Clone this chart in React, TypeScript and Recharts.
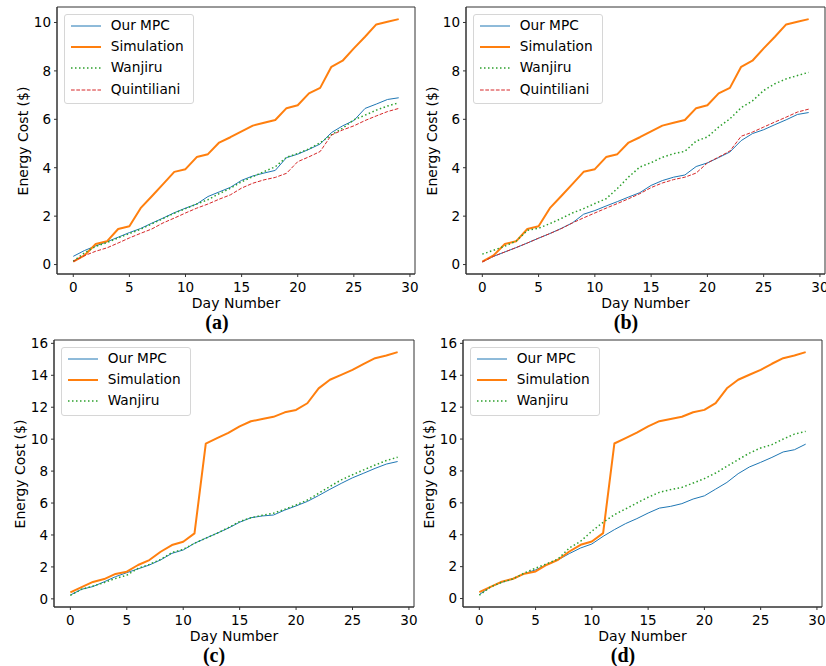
import { Line, LineChart, ReferenceArea, XAxis, YAxis } from "recharts";

// day index 0..29
const days = [
  0, 1, 2, 3, 4, 5, 6, 7, 8, 9, 10, 11, 12, 13, 14, 15, 16, 17, 18, 19, 20, 21, 22, 23, 24, 25, 26,
  27, 28, 29,
];
const xTicks = [0, 5, 10, 15, 20, 25, 30];
const yTicksAB = [0, 2, 4, 6, 8, 10];
const yTicksCD = [0, 2, 4, 6, 8, 10, 12, 14, 16];

// panels (a) and (b)
const simAB = [
  0.12, 0.38, 0.85, 0.96, 1.47, 1.58, 2.33, 2.82, 3.32, 3.83, 3.94, 4.44, 4.56, 5.04, 5.26, 5.5,
  5.74, 5.86, 5.97, 6.46, 6.58, 7.07, 7.3, 8.17, 8.42, 8.93, 9.41, 9.92, 10.03, 10.14,
];
const mpcA = [
  0.34, 0.58, 0.77, 0.94, 1.13, 1.32, 1.49, 1.71, 1.92, 2.14, 2.33, 2.5, 2.81, 3.0, 3.19, 3.48,
  3.66, 3.78, 3.89, 4.42, 4.56, 4.76, 4.98, 5.45, 5.73, 5.95, 6.45, 6.63, 6.82, 6.89,
];
const wanjiruA = [
  0.14, 0.48, 0.75, 0.91, 1.1, 1.28, 1.46, 1.68, 1.9, 2.12, 2.31, 2.5, 2.68, 2.93, 3.15, 3.42, 3.63,
  3.84, 4.04, 4.43, 4.59, 4.78, 5.03, 5.36, 5.63, 5.98, 6.17, 6.38, 6.55, 6.68,
];
const quintilianiA = [
  0.13, 0.37, 0.55, 0.69, 0.89, 1.1, 1.29, 1.47, 1.72, 1.92, 2.13, 2.33, 2.5, 2.7, 2.88, 3.16, 3.36,
  3.5, 3.6, 3.77, 4.25, 4.45, 4.67, 5.35, 5.56, 5.73, 5.95, 6.14, 6.32, 6.45,
];
const mpcB = [
  0.11, 0.34, 0.52, 0.7, 0.89, 1.09, 1.28, 1.49, 1.72, 2.08, 2.23, 2.42, 2.6, 2.79, 2.97, 3.27, 3.47,
  3.61, 3.7, 4.05, 4.2, 4.42, 4.65, 5.12, 5.41, 5.57, 5.78, 5.98, 6.2, 6.28,
];
const wanjiruB = [
  0.43, 0.59, 0.76, 0.97, 1.41, 1.5, 1.69, 1.9, 2.13, 2.31, 2.52, 2.72, 3.14, 3.62, 4.03, 4.21, 4.43,
  4.58, 4.68, 5.1, 5.27, 5.68, 6.02, 6.48, 6.76, 7.19, 7.47, 7.67, 7.81, 7.94,
];
const quintilianiB = [
  0.11, 0.34, 0.52, 0.7, 0.89, 1.09, 1.28, 1.48, 1.72, 1.93, 2.13, 2.33, 2.52, 2.72, 2.93, 3.18,
  3.37, 3.51, 3.61, 3.78, 4.2, 4.44, 4.69, 5.3, 5.47, 5.68, 5.89, 6.09, 6.3, 6.42,
];

// panels (c) and (d)
const simCD = [
  0.4, 0.73, 1.06, 1.24, 1.56, 1.7, 2.12, 2.43, 2.95, 3.37, 3.58, 4.1, 9.72, 10.06, 10.4, 10.8,
  11.12, 11.26, 11.4, 11.68, 11.83, 12.25, 13.18, 13.72, 14.03, 14.34, 14.72, 15.07, 15.24, 15.45,
];
const mpcC = [
  0.24, 0.6, 0.77, 1.07, 1.39, 1.64, 1.88, 2.12, 2.44, 2.85, 3.06, 3.48, 3.8, 4.11, 4.43, 4.8, 5.08,
  5.19, 5.25, 5.56, 5.82, 6.1, 6.47, 6.86, 7.23, 7.58, 7.87, 8.17, 8.44, 8.6,
];
const wanjiruC = [
  0.22, 0.6, 0.8, 1.02, 1.28, 1.48, 1.91, 2.16, 2.47, 2.9, 3.1, 3.48, 3.8, 4.11, 4.46, 4.84, 5.08,
  5.23, 5.36, 5.61, 5.88, 6.19, 6.61, 7.04, 7.45, 7.77, 8.08, 8.38, 8.66, 8.87,
];
const mpcD = [
  0.25, 0.73, 1.02, 1.23, 1.56, 1.8, 2.12, 2.43, 2.82, 3.17, 3.42, 3.9, 4.32, 4.7, 5.01, 5.36, 5.67,
  5.78, 5.95, 6.24, 6.44, 6.86, 7.28, 7.83, 8.25, 8.54, 8.85, 9.19, 9.33, 9.68,
];
const wanjiruD = [
  0.21, 0.73, 1.02, 1.23, 1.6, 1.91, 2.18, 2.48, 3.17, 3.59, 4.22, 4.78, 5.26, 5.62, 5.99, 6.35,
  6.66, 6.83, 6.97, 7.24, 7.52, 7.87, 8.29, 8.71, 9.12, 9.44, 9.65, 10.0, 10.31, 10.48,
];

type Style = { name: string; color: string; width: number; dash?: string };

const STYLES: Record<string, Style> = {
  mpc: { name: "Our MPC", color: "#1f77b4", width: 1 },
  sim: { name: "Simulation", color: "#ff7f0e", width: 2 },
  wan: { name: "Wanjiru", color: "#2ca02c", width: 1.5, dash: "1.5 2.5" },
  qui: { name: "Quintiliani", color: "#d62728", width: 1, dash: "3.7 1.6" },
};

const FONT = "'DejaVu Sans', sans-serif";
const X_DOMAIN: [number, number] = [-1.45, 30.45];

type PanelProps = {
  letter: string;
  left: number;
  top: number;
  right: number;
  bottom: number;
  yDomain: [number, number];
  yTicks: number[];
  series: Record<string, number[]>;
};

function Legend({ x, y, keys }: { x: number; y: number; keys: string[] }) {
  const rowH = 21.2;
  return (
    <div
      style={{
        position: "absolute",
        left: x,
        top: y,
        width: 130,
        height: rowH * keys.length + 6,
        border: "1px solid #d6d6d6",
        borderRadius: 3,
        background: "rgba(255,255,255,0.8)",
        boxSizing: "border-box",
      }}
    >
      {keys.map((k, i) => {
        const s = STYLES[k];
        const cy = 12.5 + rowH * i;
        return (
          <div key={k}>
            <svg
              width={32}
              height={6}
              style={{ position: "absolute", left: 5, top: cy - 3 - 1 }}
            >
              <line
                x1={1}
                x2={31}
                y1={3}
                y2={3}
                stroke={s.color}
                strokeWidth={s.width}
                strokeDasharray={s.dash}
              />
            </svg>
            <span
              style={{
                position: "absolute",
                left: 46,
                top: cy - 1,
                transform: "translateY(-50%)",
                fontFamily: FONT,
                fontSize: 13.7,
                lineHeight: 1,
                whiteSpace: "nowrap",
              }}
            >
              {s.name}
            </span>
          </div>
        );
      })}
    </div>
  );
}

function Panel({ letter, left, top, right, bottom, yDomain, yTicks, series }: PanelProps) {
  const keys = Object.keys(series);
  const rows = days.map((d, i) => {
    const r: Record<string, number> = { day: d };
    keys.forEach((k) => (r[k] = series[k][i]));
    return r;
  });
  const w = right - left;
  const h = bottom - top;
  const tick = { fill: "#000", fontSize: 13.5, fontFamily: FONT };

  return (
    <>
      <div style={{ position: "absolute", left: left - 50, top: top - 5 }}>
        <LineChart
          width={w + 55}
          height={h + 35}
          data={rows}
          margin={{ top: 5, right: 5, bottom: 0, left: 0 }}
        >
          <XAxis
            dataKey="day"
            type="number"
            domain={X_DOMAIN}
            ticks={xTicks}
            allowDataOverflow
            height={30}
            tickSize={3}
            tickMargin={5}
            tick={tick}
            axisLine={{ stroke: "#333" }}
            tickLine={{ stroke: "#333" }}
          />
          <YAxis
            type="number"
            domain={yDomain}
            ticks={yTicks}
            allowDataOverflow
            width={50}
            tickSize={3}
            tickMargin={3}
            tick={tick}
            axisLine={{ stroke: "#333" }}
            tickLine={{ stroke: "#333" }}
          />
          {keys.map((k) => {
            const s = STYLES[k];
            return (
              <Line
                key={k}
                type="linear"
                dataKey={k}
                stroke={s.color}
                strokeWidth={s.width}
                strokeDasharray={s.dash}
                strokeLinejoin="round"
                dot={false}
                activeDot={false}
                isAnimationActive={false}
              />
            );
          })}
          <ReferenceArea
            x1={X_DOMAIN[0]}
            x2={X_DOMAIN[1]}
            y1={yDomain[0]}
            y2={yDomain[1]}
            stroke="#333"
            strokeWidth={1}
            fill="none"
            fillOpacity={0}
            ifOverflow="visible"
          />
        </LineChart>
      </div>
      <Legend x={left + 6.7} y={top + 6.5} keys={keys} />
      <div
        style={{
          position: "absolute",
          left: left - 34.5,
          top: (top + bottom) / 2,
          transform: "translate(-50%, -50%) rotate(-90deg)",
          fontFamily: FONT,
          fontSize: 14,
          lineHeight: 1,
          whiteSpace: "nowrap",
        }}
      >
        Energy Cost ($)
      </div>
      <div
        style={{
          position: "absolute",
          left: (left + right) / 2,
          top: bottom + 28.7,
          transform: "translate(-50%, -50%)",
          fontFamily: FONT,
          fontSize: 14,
          lineHeight: 1,
          whiteSpace: "nowrap",
        }}
      >
        Day Number
      </div>
      <div
        style={{
          position: "absolute",
          left: left + 160,
          top: bottom + 47.5,
          transform: "translate(-50%, -50%)",
          fontFamily: "'Liberation Serif', serif",
          fontWeight: "bold",
          fontSize: 20,
          lineHeight: 1,
        }}
      >
        {letter}
      </div>
    </>
  );
}

export default function App() {
  return (
    <div
      style={{
        position: "absolute",
        left: 0,
        top: 0,
        width: 826,
        height: 666,
        background: "#fff",
        overflow: "hidden",
      }}
    >
      <Panel
        letter="(a)"
        left={57}
        top={7}
        right={415}
        bottom={274}
        yDomain={[-0.39, 10.64]}
        yTicks={yTicksAB}
        series={{ mpc: mpcA, sim: simAB, wan: wanjiruA, qui: quintilianiA }}
      />
      <Panel
        letter="(b)"
        left={466}
        top={7}
        right={825}
        bottom={274}
        yDomain={[-0.39, 10.64]}
        yTicks={yTicksAB}
        series={{ mpc: mpcB, sim: simAB, wan: wanjiruB, qui: quintilianiB }}
      />
      <Panel
        letter="(c)"
        left={54}
        top={340}
        right={414}
        bottom={607}
        yDomain={[-0.51, 16.21]}
        yTicks={yTicksCD}
        series={{ mpc: mpcC, sim: simCD, wan: wanjiruC }}
      />
      <Panel
        letter="(d)"
        left={463}
        top={340}
        right={822}
        bottom={607}
        yDomain={[-0.53, 16.21]}
        yTicks={yTicksCD}
        series={{ mpc: mpcD, sim: simCD, wan: wanjiruD }}
      />
    </div>
  );
}
